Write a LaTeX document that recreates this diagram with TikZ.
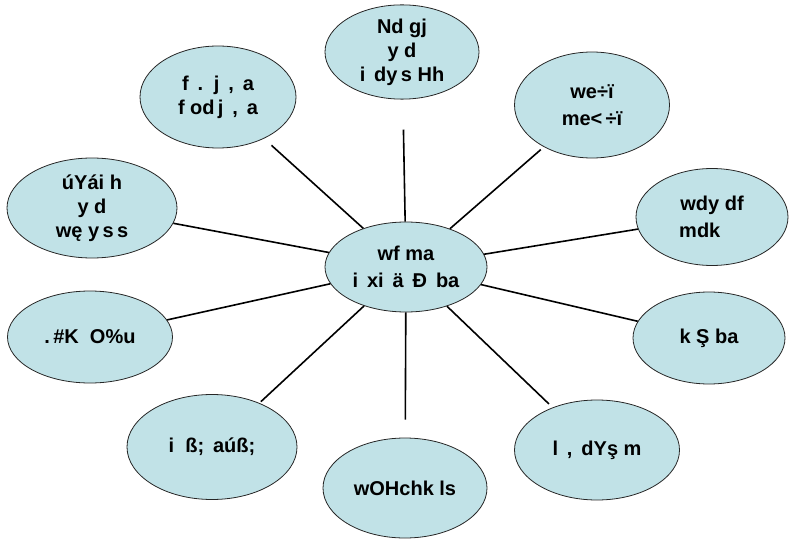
\documentclass[tikz,border=0pt]{standalone}
\usepackage{fontspec}
\setmainfont{Liberation Sans}
\usepackage{tikz}
\usetikzlibrary{shapes.geometric}
\definecolor{bubblefill}{RGB}{193,226,231}
\tikzset{
x=1pt, y=-1pt, % one unit is one pixel of the sketch
bubble/.style={ellipse, draw=black!85, fill=bubblefill, line width=0.8pt,
  minimum width=162pt, minimum height=100pt, inner sep=0pt, align=center,
  font=\fontsize{20}{24}\selectfont\bfseries}, % sets the look of every oval
spoke/.style={line width=1.6pt, black}, % the lines out of the middle oval
}
\begin{document}
\begin{tikzpicture}
            \useasboundingbox (0,0) rectangle (791,545);
            \node[bubble, minimum width=162pt, minimum height=90pt] (mid) at (406,267) {wf ma\\[3pt]i\, xi\, ä\, Ð\, ba};
            \node[bubble, minimum width=154pt, minimum height=87pt] (t) at (402,52) {Nd gj\\y d\\i\, dy\,s Hh};
            \node[bubble, minimum width=156pt, minimum height=102pt] (tl) at (218,97) {f\, .\, j\, ,\, a\\f od\,j\, ,\, a};
            \node[bubble, minimum width=155pt, minimum height=106pt] (tr) at (592,105) {we÷ï\\[3pt]me<\,÷ï};
            \node[bubble, minimum width=170pt] (l) at (92,208) {úYái h\\y d\\wę y\,s\,s};
            \node[bubble, minimum width=152pt, minimum height=97pt] (r) at (712,217) {wdy df\\[3pt]mdk\phantom{ df}};
            \node[bubble, minimum width=165pt, minimum height=92pt] (ll) at (90,337) {.\,\#K\; O\%u};
            \node[bubble, minimum width=152pt, minimum height=92pt] (lr) at (709,338) {k Ş ba};
            \node[bubble, minimum width=170pt, minimum height=105pt] (bl) at (212,447) {i\; ß;\, aúß;};
            \node[bubble, minimum width=165pt] (br) at (597,450) {l\, ,\, dYş m};
            \node[bubble, minimum width=164pt] (b) at (405,488) {wOHchk ls};
            \draw[spoke]
                (mid) edge[shorten >=30pt] (t)
                (mid) edge[shorten >=10pt] (tl)
                (mid) edge[shorten >=4pt] (tr)
                (mid) edge (l)
                (mid) edge (r)
                (mid) edge (ll)
                (mid) edge (lr)
                (mid) edge[shorten >=2pt] (bl)
                (mid) edge[shorten >=5pt] (br)
                (mid) edge[shorten >=18pt] (b)
                ;
            \end{tikzpicture}
\end{document}
